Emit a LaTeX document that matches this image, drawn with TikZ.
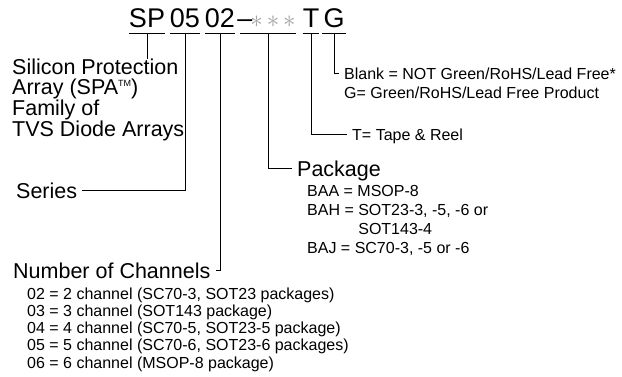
\documentclass[tikz,border=0pt]{standalone}
\usepackage{fontspec}
\setmainfont{Liberation Sans}
\usetikzlibrary{calc}
\definecolor{stargray}{rgb}{0.63, 0.63, 0.63}
\newcommand{\tmark}{{\fontsize{9}{9}\selectfont\raisebox{8.5pt}{TM}}}
\tikzset{
  code/.style={font=\fontsize{27}{27}\selectfont, anchor=base, inner xsep=0pt, inner ysep=0pt, text height=19pt, text depth=5pt},
  head/.style={font=\fontsize{21.5}{20}\selectfont, anchor=west, inner xsep=5pt, inner ysep=0pt, text height=15.4pt, text depth=0pt},
  note/.style={font=\fontsize{16}{19.3}\selectfont, anchor=west, inner xsep=5pt, inner ysep=0pt, text height=11.5pt, text depth=0pt},
  desc/.style={font=\fontsize{21.5}{20}\selectfont, anchor=base west, align=left, inner sep=0pt},
  sublist/.style={font=\fontsize{16}{19.3}\selectfont, anchor=base west, align=left, inner sep=0pt},
  lead/.style={line width=1pt}
}
\begin{document}
\begin{tikzpicture}[x=1pt,y=-1pt]
\useasboundingbox (0,0) rectangle (622,377);
% part number
\draw (147,28) node (sp) [code, minimum width=36pt] {SP};
\draw (185,28) node (ser) [code, minimum width=30pt] {05};
\draw (220,28) node (ch) [code, minimum width=30pt] {02};
\draw (245,28) node (dash) [code] {--};
\draw (268,28) node (pk) [code, minimum width=54pt, stargray] {\hspace*{10pt}$\ast$\hspace{4pt}$\ast$\hspace{4pt}$\ast$};
\draw (311,28) node (tr) [code, minimum width=16pt] {T};
\draw (334,28) node (gr) [code, minimum width=24pt] {G};
\draw[lead] (sp.south west)--(sp.south east);
\draw[lead] (ser.south west)--(ser.south east);
\draw[lead] (ch.south west)--(ch.south east);
\draw[lead] (pk.south west)--(pk.south east);
\draw[lead] (tr.south west)--(tr.south east);
\draw[lead] (gr.south west)--(gr.south east);
% descriptions (base = last line)
\draw (12,137) node (spa) [desc] {Silicon Protection\\Array (SPA\tmark)\\Family of\\TVS Diode Arrays};
\draw (11,191) node (series) [head] {Series};
\draw (8,271) node (chan) [head] {Number of Channels};
\draw (27,368.2) node (chlist) [sublist, font=\fontsize{16}{17.3}\selectfont] {02 = 2 channel (SC70-3, SOT23 packages)\\03 = 3 channel (SOT143 package)\\04 = 4 channel (SC70-5, SOT23-5 package)\\05 = 5 channel (SC70-6, SOT23-6 packages)\\06 = 6 channel (MSOP-8 package)};
\draw (292,169) node (package) [head] {Package};
\draw (307,254) node (pkglist) [sublist] {BAA = MSOP-8\\BAH = SOT23-3, -5, -6 or\\\phantom{BAH = }SOT143-4\\BAJ = SC70-3, -5 or -6};
\draw (347,134.5) node (tape) [note] {T= Tape \& Reel};
\draw (339,74) node (blank) [note] {Blank = NOT Green/RoHS/Lead Free*};
\draw (339,93) node (gfree) [note] {G= Green/RoHS/Lead Free Product};
% leaders
\draw[lead] (sp.south)--(sp.south |- spa.north);
\draw[lead] (ser.south) |- (series.east);
\draw[lead] (ch.south) |- (chan.east);
\draw[lead] (pk.south) |- (package.west);
\draw[lead] (tr.south) |- (tape.west);
\draw[lead] (gr.south) |- (blank.west);
\end{tikzpicture}
\end{document}
